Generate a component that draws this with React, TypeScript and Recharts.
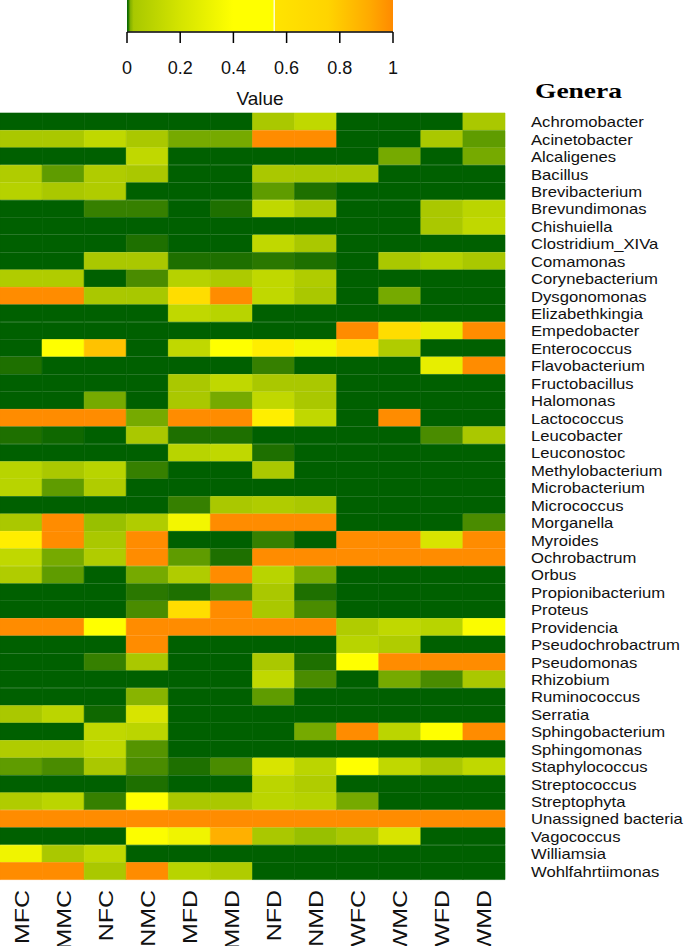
import React from 'react';
import { BarChart, Bar, XAxis, YAxis, Cell, Customized } from 'recharts';

const genera = [
  'Achromobacter', 'Acinetobacter', 'Alcaligenes', 'Bacillus', 'Brevibacterium', 'Brevundimonas',
  'Chishuiella', 'Clostridium_XIVa', 'Comamonas', 'Corynebacterium', 'Dysgonomonas', 'Elizabethkingia',
  'Empedobacter', 'Enterococcus', 'Flavobacterium', 'Fructobacillus', 'Halomonas', 'Lactococcus',
  'Leucobacter', 'Leuconostoc', 'Methylobacterium', 'Microbacterium', 'Micrococcus', 'Morganella',
  'Myroides', 'Ochrobactrum', 'Orbus', 'Propionibacterium', 'Proteus', 'Providencia',
  'Pseudochrobactrum', 'Pseudomonas', 'Rhizobium', 'Ruminococcus', 'Serratia', 'Sphingobacterium',
  'Sphingomonas', 'Staphylococcus', 'Streptococcus', 'Streptophyta', 'Unassigned bacteria', 'Vagococcus',
  'Williamsia', 'Wohlfahrtiimonas',
];

const samples = ['MFC', 'MMC', 'NFC', 'NMC', 'MFD', 'MMD', 'NFD', 'NMD', 'WFC', 'WMC', 'WFD', 'WMD'];

const legendTicks = [0, 0.2, 0.4, 0.6, 0.8, 1];

// one row per genus, columns in the order of `samples`
const heatValues: number[][] = [
  [0, 0, 0, 0, 0, 0, 0.03, 0.12, 0, 0, 0, 0.03],
  [0.03, 0.03, 0.12, 0.03, 0.01, 0.01, 1, 1, 0, 0, 0.03, 0.008],
  [0, 0, 0, 0.12, 0, 0, 0, 0, 0, 0.01, 0, 0.01],
  [0.05, 0.008, 0.05, 0.03, 0, 0, 0.03, 0.025, 0.025, 0, 0, 0],
  [0.08, 0.03, 0.05, 0, 0, 0, 0.008, 0.002, 0, 0, 0, 0],
  [0, 0, 0.004, 0.004, 0, 0.002, 0.12, 0.03, 0, 0, 0.03, 0.1],
  [0, 0, 0, 0, 0, 0, 0, 0, 0, 0, 0.03, 0.12],
  [0, 0, 0, 0.002, 0, 0, 0.12, 0.03, 0, 0, 0, 0],
  [0, 0, 0.03, 0.03, 0.002, 0.002, 0.003, 0.002, 0, 0.03, 0.08, 0.03],
  [0.05, 0.05, 0, 0.006, 0.08, 0.04, 0.12, 0.05, 0, 0, 0, 0],
  [1, 1, 0.03, 0.025, 0.62, 1, 0.12, 0.03, 0, 0.01, 0, 0],
  [0, 0, 0, 0, 0.12, 0.09, 0, 0, 0, 0, 0, 0],
  [0, 0, 0, 0, 0, 0, 0, 0, 1, 0.62, 0.3, 1],
  [0, 0.45, 0.77, 0, 0.12, 0.45, 0.5, 0.38, 0.6, 0.05, 0, 0],
  [0.002, 0, 0, 0, 0, 0, 0.004, 0, 0, 0, 0.3, 1],
  [0, 0, 0, 0, 0.03, 0.12, 0.03, 0.03, 0, 0, 0, 0],
  [0, 0, 0.01, 0, 0.03, 0.01, 0.12, 0.03, 0, 0, 0, 0],
  [1, 1, 1, 0.01, 1, 1, 0.5, 0.12, 0, 1, 0, 0],
  [0.002, 0.001, 0, 0.03, 0.002, 0.002, 0, 0, 0, 0, 0.006, 0.03],
  [0, 0, 0, 0, 0.09, 0.12, 0.002, 0, 0, 0, 0, 0],
  [0.09, 0.03, 0.09, 0.004, 0, 0, 0.03, 0, 0, 0, 0, 0],
  [0.09, 0.008, 0.05, 0, 0, 0, 0, 0, 0, 0, 0, 0],
  [0, 0, 0, 0, 0.004, 0.03, 0.05, 0.03, 0, 0, 0, 0],
  [0.03, 1, 0.016, 0.05, 0.37, 1, 1, 1, 0, 0, 0, 0.006],
  [0.5, 1, 0.03, 1, 0, 0, 0.004, 0, 1, 1, 0.22, 1],
  [0.12, 0.01, 0.05, 1, 0.008, 0.002, 1, 1, 1, 1, 1, 1],
  [0.05, 0.008, 0, 0.01, 0.05, 1, 0.09, 0.01, 0, 0, 0, 0],
  [0, 0, 0, 0.003, 0.002, 0.006, 0.03, 0.002, 0, 0, 0, 0],
  [0, 0, 0, 0.006, 0.62, 1, 0.03, 0.006, 0, 0, 0, 0],
  [1, 1, 0.45, 1, 1, 1, 1, 1, 0.05, 0.12, 0.09, 0.42],
  [0, 0, 0, 1, 0, 0, 0, 0, 0.09, 0.05, 0, 0],
  [0, 0, 0.004, 0.03, 0, 0, 0.03, 0.002, 0.45, 1, 1, 1],
  [0, 0, 0, 0, 0, 0, 0.12, 0.006, 0, 0.01, 0.006, 0.03],
  [0, 0, 0, 0.013, 0, 0, 0.008, 0, 0, 0, 0, 0],
  [0.03, 0.1, 0.001, 0.22, 0, 0, 0, 0, 0, 0, 0, 0],
  [0, 0, 0.12, 0.1, 0, 0, 0, 0.01, 1, 0.1, 0.45, 1],
  [0.05, 0.05, 0.12, 0.007, 0, 0, 0, 0, 0, 0, 0, 0],
  [0.008, 0.006, 0.03, 0.006, 0.002, 0.006, 0.22, 0.1, 0.45, 0.12, 0.03, 0.12],
  [0, 0, 0, 0.002, 0, 0, 0.1, 0.05, 0, 0, 0, 0],
  [0.05, 0.1, 0.004, 0.45, 0.03, 0.03, 0.1, 0.08, 0.01, 0, 0, 0],
  [1, 1, 1, 1, 1, 1, 1, 1, 1, 1, 1, 1],
  [0, 0, 0, 0.43, 0.35, 0.86, 0.03, 0.016, 0.03, 0.22, 0, 0],
  [0.35, 0.03, 0.12, 0, 0, 0, 0, 0, 0, 0, 0, 0],
  [1, 1, 0.03, 1, 0.09, 0.05, 0, 0, 0, 0, 0, 0],
];

const colorStops: [number, string][] = [
  [0, '#006000'],
  [0.001, '#0f6800'],
  [0.002, '#1e7000'],
  [0.004, '#368000'],
  [0.006, '#4a8c00'],
  [0.008, '#5f9c00'],
  [0.01, '#76aa00'],
  [0.013, '#88b400'],
  [0.016, '#98c000'],
  [0.02, '#a6c800'],
  [0.03, '#aac800'],
  [0.05, '#b0cc00'],
  [0.09, '#b8d400'],
  [0.12, '#c0d800'],
  [0.22, '#d8e400'],
  [0.35, '#f0f400'],
  [0.45, '#ffff00'],
  [0.5, '#ffee00'],
  [0.6, '#ffe000'],
  [0.65, '#ffd800'],
  [0.78, '#ffc000'],
  [0.86, '#ffb000'],
  [1, '#ff8c00'],
];

function hexToRgb(h: string) {
  const n = parseInt(h.slice(1), 16);
  return [(n >> 16) & 255, (n >> 8) & 255, n & 255];
}

function colorFor(v: number) {
  if (v <= colorStops[0][0]) return colorStops[0][1];
  for (let i = 1; i < colorStops.length; i++) {
    const [v1, c1] = colorStops[i];
    if (v <= v1) {
      const [v0, c0] = colorStops[i - 1];
      const t = (v - v0) / (v1 - v0);
      const a = hexToRgb(c0);
      const b = hexToRgb(c1);
      const m = a.map((x, k) => Math.round(x + (b[k] - x) * t));
      return `rgb(${m[0]},${m[1]},${m[2]})`;
    }
  }
  return colorStops[colorStops.length - 1][1];
}

const data = genera.map((g) => {
  const row: Record<string, any> = { genus: g };
  samples.forEach((s) => {
    row[s] = 1;
  });
  return row;
});

const SANS = '"Liberation Sans", Arial, Helvetica, sans-serif';
const SERIF = '"Liberation Serif", "Times New Roman", serif';

const ColorBar = () => {
  const x0 = 127;
  const x1 = 393;
  const w = x1 - x0;
  const split = 0.553;
  const pos = (v: number) => x0 + v * w;
  return (
    <g>
      <defs>
        <linearGradient id="cbLeft" x1="0" x2="1" y1="0" y2="0">
          <stop offset="0" stopColor="#006400" />
          <stop offset={0.006 / split} stopColor="#2a7a00" />
          <stop offset={0.012 / split} stopColor="#80b000" />
          <stop offset={0.025 / split} stopColor="#a8c800" />
          <stop offset={0.2 / split} stopColor="#d4e400" />
          <stop offset={0.4 / split} stopColor="#ffff00" />
          <stop offset="1" stopColor="#ffff00" />
        </linearGradient>
        <linearGradient id="cbRight" x1="0" x2="1" y1="0" y2="0">
          <stop offset="0" stopColor="#ffe400" />
          <stop offset="0.45" stopColor="#ffd400" />
          <stop offset="0.8" stopColor="#ffaa00" />
          <stop offset="1" stopColor="#ff8a00" />
        </linearGradient>
      </defs>
      <rect x={x0} y={-4} width={split * w - 0.5} height={35.5} fill="url(#cbLeft)" />
      <rect x={x0 + split * w + 0.7} y={-4} width={(1 - split) * w - 0.7} height={35.5} fill="url(#cbRight)" />
      <line x1={x0} x2={x1} y1={32} y2={32} stroke="#000" strokeWidth={1.5} />
      {legendTicks.map((t) => (
        <g key={t}>
          <line x1={pos(t)} x2={pos(t)} y1={32} y2={43} stroke="#000" strokeWidth={1.5} />
          <text x={pos(t)} y={74} textAnchor="middle" fontSize={18} fontFamily={SANS} fill="#111">
            {String(t)}
          </text>
        </g>
      ))}
      <text x={260} y={105} textAnchor="middle" fontSize={19} fontFamily={SANS} fill="#111">
        Value
      </text>
      <text
        transform="translate(535,98) scale(1.25,1)"
        fontSize={22}
        fontWeight="bold"
        fontFamily={SERIF}
        fill="#000"
      >
        Genera
      </text>
    </g>
  );
};

const GenusTick = (p: any) => {
  const { y, payload } = p;
  return (
    <text
      transform={`translate(531,${y + 5.5}) scale(1.19,1)`}
      fontSize={14}
      fontFamily={SANS}
      fill="#111"
    >
      {payload.value}
    </text>
  );
};

const SampleTick = (p: any) => {
  const { x, payload } = p;
  const label = samples[Math.floor(payload.value)];
  return (
    <text
      transform={`translate(${x + 7.5},890) rotate(-90) scale(1.28,1)`}
      textAnchor="end"
      fontSize={19.5}
      fontFamily={SANS}
      fill="#111"
    >
      {label}
    </text>
  );
};

export default function App() {
  return (
    <div style={{ position: 'absolute', left: 0, top: 0, width: 685, height: 946, background: '#fff' }}>
      <BarChart
        width={685}
        height={946}
        data={data}
        layout="vertical"
        margin={{ top: 113, right: 0, bottom: 0, left: 0 }}
        barCategoryGap={0}
        barGap={0}
      >
        <XAxis
          type="number"
          domain={[0, samples.length]}
          ticks={samples.map((_, i) => i + 0.5)}
          height={66}
          axisLine={false}
          tickLine={false}
          tick={<SampleTick />}
          interval={0}
        />
        <YAxis
          type="category"
          dataKey="genus"
          orientation="right"
          width={180}
          axisLine={false}
          tickLine={false}
          interval={0}
          tick={<GenusTick />}
        />
        {samples.map((s, j) => (
          <Bar key={s} dataKey={s} stackId="heat" isAnimationActive={false}>
            {genera.map((g, i) => {
              const c = colorFor(heatValues[i][j]);
              return <Cell key={g} fill={c} stroke={c} strokeWidth={0.6} />;
            })}
          </Bar>
        ))}
        <Customized component={ColorBar} />
      </BarChart>
    </div>
  );
}
